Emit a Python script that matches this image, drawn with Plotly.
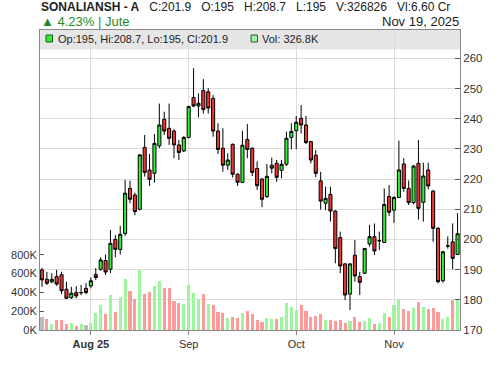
import plotly.graph_objects as go

# ---- data (86 trading sessions) ----
open_ = [189.9, 186.8, 185.9, 187.7, 188.3, 183.5, 180.7, 182.4, 182.3, 183.8,
         184.6, 188.4, 190.1, 193.0, 190.1, 200.0, 196.7, 202.0, 216.9, 214.7,
         210.0, 230.5, 223.0, 221.9, 231.0, 239.8, 236.8, 235.9, 231.3, 229.3,
         233.8, 247.0, 244.2, 249.3, 248.9, 246.7, 235.9, 230.2, 224.6, 231.5,
         221.6, 218.9, 233.1, 230.2, 223.5, 220.0, 214.2, 224.6, 225.2, 222.9,
         224.9, 233.8, 236.0, 240.1, 237.9, 232.4, 227.9, 219.4, 212.0, 214.9,
         209.4, 200.6, 191.9, 181.9, 194.8, 187.7, 188.8, 198.5, 200.9, 199.5,
         199.0, 214.2, 209.7, 213.9, 225.0, 216.9, 212.2, 225.2, 212.3, 223.0,
         216.0, 203.7, 186.3, 197.8, 199.2, 195.0]
high = [190.6, 189.3, 188.8, 189.9, 189.3, 186.0, 184.3, 184.5, 184.9, 185.5,
        187.4, 190.5, 194.1, 195.0, 203.1, 201.5, 204.5, 219.7, 219.5, 215.5,
        228.3, 234.6, 228.3, 234.9, 245.0, 242.3, 245.0, 236.5, 232.9, 234.2,
        244.3, 256.7, 248.4, 253.1, 250.1, 247.8, 238.5, 236.8, 228.5, 231.8,
        221.9, 236.0, 238.2, 230.5, 225.9, 220.3, 225.0, 227.1, 226.3, 226.3,
        235.7, 238.5, 240.9, 244.5, 240.9, 232.7, 229.6, 222.4, 217.5, 217.5,
        209.7, 202.6, 192.2, 192.1, 199.8, 189.3, 197.2, 204.8, 205.3, 202.6,
        216.9, 218.0, 214.3, 232.7, 226.9, 219.5, 224.6, 232.9, 225.4, 225.4,
        216.4, 204.0, 196.2, 201.0, 205.3, 208.7]
low = [184.3, 184.9, 185.5, 184.6, 181.9, 180.2, 180.3, 180.5, 181.6, 181.9,
       183.8, 186.6, 189.6, 188.2, 188.8, 194.1, 195.0, 201.2, 212.0, 208.0,
       209.6, 220.8, 217.7, 218.8, 230.2, 234.6, 231.3, 226.9, 226.3, 229.0,
       233.5, 243.8, 240.4, 241.7, 241.7, 234.0, 228.3, 222.4, 223.0, 220.5,
       217.7, 218.7, 226.9, 221.0, 216.4, 210.7, 213.7, 221.9, 219.1, 220.3,
       224.3, 229.8, 229.9, 235.1, 231.6, 225.2, 220.6, 209.9, 209.7, 205.9,
       192.1, 188.8, 179.9, 176.6, 186.0, 181.6, 188.5, 197.6, 194.8, 196.5,
       198.8, 207.8, 205.5, 213.7, 215.8, 211.4, 211.7, 206.6, 205.9, 216.6,
       199.2, 185.5, 185.7, 197.0, 190.1, 195.0]
close = [186.6, 185.5, 186.8, 185.2, 183.0, 180.5, 182.2, 181.3, 182.4, 182.4,
         186.3, 187.4, 193.2, 189.2, 198.7, 196.7, 201.7, 215.3, 213.3, 209.2,
         228.0, 222.2, 219.9, 231.8, 237.9, 235.9, 233.5, 231.3, 228.8, 233.8,
         244.0, 244.2, 245.1, 243.0, 243.5, 235.9, 229.8, 224.6, 226.3, 221.6,
         218.9, 231.2, 229.8, 222.2, 217.8, 213.3, 220.9, 223.6, 220.6, 224.9,
         233.5, 235.8, 238.8, 237.9, 232.1, 226.3, 221.9, 212.7, 213.6, 209.4,
         197.0, 191.2, 181.6, 191.9, 187.9, 185.8, 197.0, 200.9, 196.2, 199.6,
         211.6, 209.0, 213.9, 223.0, 216.9, 212.2, 224.3, 210.3, 221.0, 217.7,
         203.7, 186.0, 195.9, 197.9, 193.7, 201.9]
volume_k = [142, 117, 64, 106, 106, 64, 74, 43, 64, 53,
            74, 181, 266, 170, 372, 191, 351, 542, 415, 330,
            638, 383, 404, 468, 521, 446, 446, 308, 287, 276,
            478, 393, 330, 383, 276, 266, 191, 181, 128, 138,
            128, 181, 202, 170, 106, 85, 128, 117, 117, 138,
            287, 245, 213, 266, 202, 138, 149, 170, 106, 106,
            96, 106, 74, 96, 138, 85, 96, 128, 64, 74,
            181, 138, 266, 330, 223, 202, 234, 298, 245, 223,
            234, 191, 117, 138, 319, 327]

month_idx = [10, 30, 52, 72]
month_labels = ["<b>Aug 25</b>", "Sep", "Oct", "Nov"]
vol_tick_vals = [0, 200, 400, 600, 800]
vol_tick_text = ["0K", "200K", "400K", "600K", "800K"]

x = list(range(len(close)))

# volume colour: compare with previous close
vol_colors = []
for i, c in enumerate(close):
    if i == 0 or c == close[i - 1]:
        vol_colors.append("#bbbbbb")
    elif c > close[i - 1]:
        vol_colors.append("#9ef59e")
    else:
        vol_colors.append("#fd9a9a")

FONT = "Liberation Sans, Arial, sans-serif"

fig = go.Figure()
fig.add_trace(go.Bar(x=x, y=volume_k, marker=dict(color=vol_colors, line=dict(width=0)),
                     width=0.62, yaxis="y", hoverinfo="skip", showlegend=False))
fig.add_trace(go.Candlestick(
    x=x, open=open_, high=high, low=low, close=close, yaxis="y2",
    increasing=dict(fillcolor="#33ee33", line=dict(color="#000000", width=1)),
    decreasing=dict(fillcolor="#ee3333", line=dict(color="#000000", width=1)),
    whiskerwidth=0, showlegend=False, hoverinfo="skip"))

def py(px):
    return (330 - px) / 300.0

def pxx(px):
    return (px - 40) / 420.0

shapes = [
    dict(type="rect", xref="paper", yref="paper", x0=0, x1=1, y0=py(49.5), y1=1,
         fillcolor="#e6e6e6", line=dict(width=0), layer="below"),
    dict(type="rect", xref="paper", yref="paper", x0=pxx(46), x1=pxx(52.5),
         y0=py(42), y1=py(35), fillcolor="#33ee33", line=dict(color="#1a5a1a", width=1)),
    dict(type="rect", xref="paper", yref="paper", x0=pxx(251), x1=pxx(257.5),
         y0=py(42), y1=py(35), fillcolor="#9ef59e", line=dict(color="#335533", width=1)),
]

NB = "\u00a0"
sep = NB * 3
header = ("<b>SONALIANSH - A</b>" + NB * 3 + "C:201.9" + sep + "O:195" + sep + "H:208.7"
          + sep + "L:195" + sep + "V:326826" + sep + "Vl:6.60 Cr")

annotations = [
    dict(text=header, xref="paper", yref="paper", x=pxx(39), y=py(7), xanchor="left",
         yanchor="middle", showarrow=False, font=dict(family=FONT, size=12, color="#222222")),
    dict(text="▲ 4.23% | Jute", xref="paper", yref="paper", x=pxx(39), y=py(21.5),
         xanchor="left", yanchor="middle", showarrow=False,
         font=dict(family=FONT, size=13, color="#1f8a1f")),
    dict(text="Nov 19, 2025", xref="paper", yref="paper", x=1.003, y=py(21.5),
         xanchor="right", yanchor="middle", showarrow=False,
         font=dict(family=FONT, size=13, color="#222222")),
    dict(text="Op:195, Hi:208.7, Lo:195, Cl:201.9", xref="paper", yref="paper",
         x=pxx(55.5), y=py(38.5), xanchor="left", yanchor="middle", showarrow=False,
         font=dict(family=FONT, size=11, color="#222222")),
    dict(text="Vol: 326.8K", xref="paper", yref="paper", x=pxx(260), y=py(38.5),
         xanchor="left", yanchor="middle", showarrow=False,
         font=dict(family=FONT, size=11, color="#222222")),
]

fig.update_layout(
    width=500, height=366,
    margin=dict(l=40, r=40, t=30, b=36, pad=0),
    paper_bgcolor="white", plot_bgcolor="white",
    font=dict(family=FONT, size=11, color="#333333"),
    boxgap=0.1,
    bargap=0,
    hovermode=False,
    shapes=shapes,
    annotations=annotations,
    xaxis=dict(range=[-0.41, 85.5], tickmode="array", tickvals=month_idx, ticktext=month_labels,
               showgrid=True, gridcolor="#dcdcdc", gridwidth=1, ticks="outside", ticklen=4,
               tickcolor="#888888", showline=True, linecolor="#888888", linewidth=1, mirror=True,
               zeroline=False, rangeslider=dict(visible=False),
               tickfont=dict(family=FONT, size=11, color="#333333")),
    yaxis=dict(range=[0, 3188], tickmode="array", tickvals=vol_tick_vals, ticktext=vol_tick_text,
               side="left", showgrid=False, ticks="inside", ticklen=4, tickcolor="#555555",
               showline=True, linecolor="#888888", linewidth=1, zeroline=False,
               tickfont=dict(family=FONT, size=11, color="#333333")),
    yaxis2=dict(range=[170, 269.37], overlaying="y", side="right", tick0=170, dtick=10,
                showgrid=True, gridcolor="#dcdcdc", gridwidth=1, ticks="inside", ticklen=5,
                tickcolor="#555555", showline=True, linecolor="#888888", linewidth=1,
                zeroline=False, tickfont=dict(family=FONT, size=11.5, color="#333333")),
)

fig.write_html("out.html")
